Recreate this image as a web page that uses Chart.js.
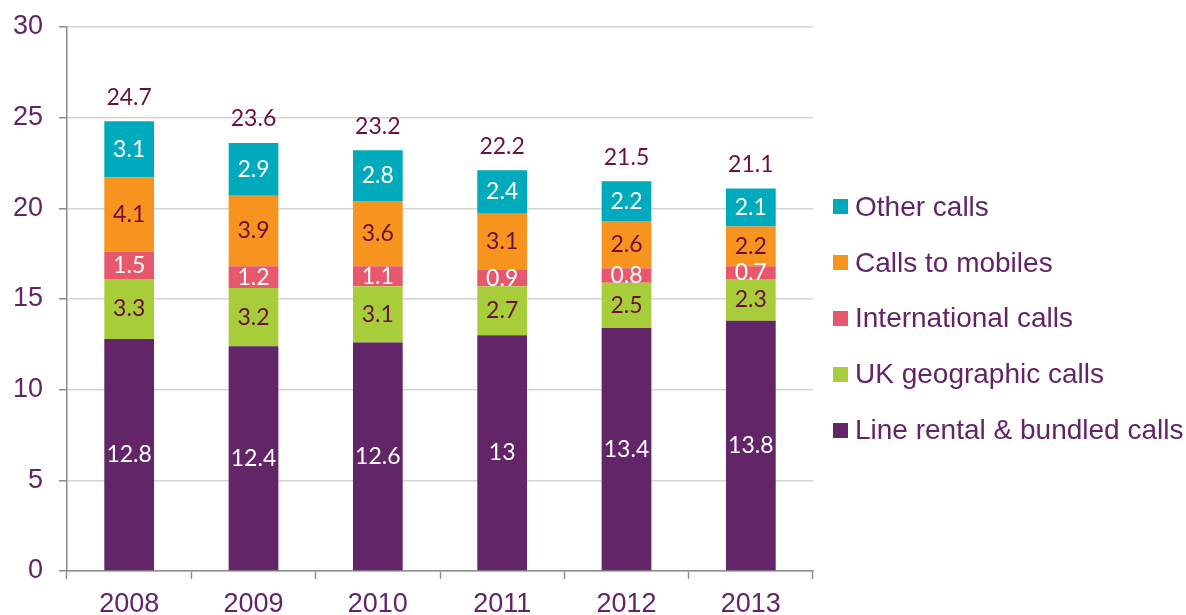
<!DOCTYPE html>
<html>
<head>
<meta charset="utf-8">
<script src="https://cdn.jsdelivr.net/npm/chart.js@4.4.1/dist/chart.umd.min.js"></script>
<style>
  html, body { margin: 0; padding: 0; background: #fff; overflow: hidden; }
  #wrap { position: relative; width: 1186px; height: 615px; }
  #legend { position: absolute; left: 833px; top: 179px; margin: 0; padding: 0; list-style: none;
            font-family: "Liberation Sans", Arial, sans-serif; font-size: 28px; color: #632466; }
  #legend li { display: flex; align-items: center; height: 55.8px; white-space: nowrap; }
  #legend span.box { display: inline-block; width: 15px; height: 15px; margin-right: 7px; }
</style>
</head>
<body>
<div id="wrap">
  <canvas id="chart-bar"></canvas>
  <ul id="legend"></ul>
</div>
<script>
const years = ['2008', '2009', '2010', '2011', '2012', '2013'];
const lineRental = [12.8, 12.4, 12.6, 13, 13.4, 13.8];
const ukGeographic = [3.3, 3.2, 3.1, 2.7, 2.5, 2.3];
const international = [1.5, 1.2, 1.1, 0.9, 0.8, 0.7];
const callsToMobiles = [4.1, 3.9, 3.6, 3.1, 2.6, 2.2];
const otherCalls = [3.1, 2.9, 2.8, 2.4, 2.2, 2.1];
const totals = [24.7, 23.6, 23.2, 22.2, 21.5, 21.1];
const yTicks = [0, 5, 10, 15, 20, 25, 30];

const purple = '#632466';
const maroon = '#6b0f3e';
const axisGrey = '#8c8c8c';
const tickFont = { size: 27, family: '"Liberation Sans", Arial, sans-serif' };

// label colour per series, white on the dark ones
const seriesList = [
  { label: 'Line rental & bundled calls', data: lineRental, color: '#622567', text: '#ffffff' },
  { label: 'UK geographic calls', data: ukGeographic, color: '#a7cd3a', text: maroon },
  { label: 'International calls', data: international, color: '#e8586c', text: '#ffffff' },
  { label: 'Calls to mobiles', data: callsToMobiles, color: '#f7941f', text: maroon },
  { label: 'Other calls', data: otherCalls, color: '#00aabd', text: '#ffffff' }
];

const valueLabels = {
  id: 'valueLabels',
  afterDatasetsDraw(chart) {
    const ctx = chart.ctx;
    ctx.save();
    ctx.font = '23px Lato, "Open Sans", sans-serif';
    ctx.textAlign = 'center';
    ctx.textBaseline = 'middle';
    chart.data.datasets.forEach((ds, i) => {
      const meta = chart.getDatasetMeta(i);
      meta.data.forEach((bar, j) => {
        ctx.fillStyle = seriesList[i].text;
        ctx.fillText(String(ds.data[j]), bar.x, (bar.y + bar.base) / 2);
      });
    });
    // totals above the stack
    const top = chart.getDatasetMeta(chart.data.datasets.length - 1);
    top.data.forEach((bar, j) => {
      ctx.fillStyle = maroon;
      ctx.fillText(String(totals[j]), bar.x, bar.y - 24);
    });
    ctx.restore();
  }
};

const ctx1 = document.getElementById('chart-bar').getContext('2d');
const chart = new Chart(ctx1, {
  type: 'bar',
  data: {
    labels: years,
    datasets: seriesList.map(s => ({
      label: s.label,
      data: s.data,
      backgroundColor: s.color,
      borderWidth: 0,
      categoryPercentage: 1,
      barPercentage: 0.4
    }))
  },
  options: {
    responsive: true,
    maintainAspectRatio: false,
    animation: false,
    layout: {
      padding: { top: 0, left: 0, right: 373, bottom: 0 }
    },
    plugins: {
      tooltip: { enabled: false },
      legend: { display: false }
    },
    scales: {
      x: {
        stacked: true,
        afterFit: (axis) => { axis.height = 44; },
        grid: {
          display: true,
          drawOnChartArea: false,
          drawTicks: true,
          tickLength: 8,
          tickColor: axisGrey,
          tickWidth: 1.5
        },
        border: { display: true, color: axisGrey, width: 1.5 },
        ticks: { padding: 9, color: purple, font: tickFont }
      },
      y: {
        stacked: true,
        min: 0,
        max: 30,
        afterBuildTicks: (axis) => { axis.ticks = yTicks.map(v => ({ value: v })); },
        afterFit: (axis) => {
          axis.width = 67;
          axis.paddingTop = 27;
          axis.paddingBottom = 0;
        },
        grid: {
          color: '#d4d4d4',
          lineWidth: 1.5,
          tickLength: 8,
          tickColor: axisGrey,
          tickWidth: 1.5
        },
        border: { display: true, color: axisGrey, width: 1.5 },
        ticks: { padding: 16, color: purple, font: tickFont }
      }
    }
  },
  plugins: [valueLabels]
});

// legend, top entry first like the stack
const legendEl = document.getElementById('legend');
seriesList.slice().reverse().forEach(s => {
  const li = document.createElement('li');
  li.innerHTML = `<span class="box" style="background:${s.color}"></span>${s.label}`;
  legendEl.appendChild(li);
});
</script>
</body>
</html>
